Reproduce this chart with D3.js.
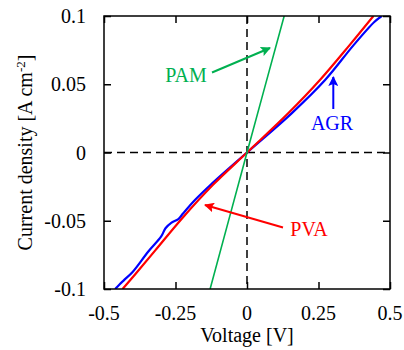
<!DOCTYPE html>
<html>
    <head>
        <meta charset="utf-8">
        <title>J-V</title>
        <script src="https://d3js.org/d3.v7.min.js" charset="utf-8"></script>
        <style>
            body { margin: 0; background: #fff; }
            text { font-family: "Liberation Serif", "Times New Roman", serif; font-size: 20px; }
            .frame { fill: none; stroke: #000; stroke-width: 1.5px; }
            .ax line { stroke: #000; stroke-width: 1.5px; }
            .zero { stroke: #000; stroke-width: 1.5px; stroke-dasharray: 8,5; }
            .curve { fill: none; }
        </style>
    </head>
    <body>
        <script>
            var width = 404;
            var height = 350;

            // podaci ocitani sa slike
            var xTicks = [-0.5, -0.25, 0, 0.25, 0.5];
            var yTicks = [-0.1, -0.05, 0, 0.05, 0.1];

            var pvaV = [-0.435, -0.39, -0.32, -0.228, -0.118, 0, 0.144, 0.255, 0.358, 0.442];
            var pvaJ = [-0.1, -0.089, -0.0715, -0.0485, -0.0235, 0, 0.0287, 0.0531, 0.0785, 0.1];

            var agrV = [-0.461, -0.445, -0.43, -0.40, -0.345, -0.30, -0.285, -0.265, -0.24, -0.223, -0.182, -0.127, 0, 0.156, 0.273, 0.372, 0.445, 0.471];
            var agrJ = [-0.1, -0.0965, -0.0935, -0.0875, -0.0725, -0.0615, -0.0555, -0.0515, -0.0488, -0.0445, -0.0348, -0.0236, 0, 0.0287, 0.0531, 0.0785, 0.0956, 0.1];

            var pamV = [-0.129, 0, 0.13];
            var pamJ = [-0.1, 0, 0.1];

            var pLeft = 104, pRight = 390, pTop = 16, pBottom = 289;

            var x = d3.scaleLinear().domain([-0.5, 0.5]).range([pLeft, pRight]);
            var y = d3.scaleLinear().domain([-0.1, 0.1]).range([pBottom, pTop]);

            var svg = d3.select("body").append("svg")
                            .attr("width", width)
                            .attr("height", height);

            var defs = svg.append("defs");
            defs.append("clipPath").attr("id", "plot")
                .append("rect")
                    .attr("x", pLeft).attr("y", pTop)
                    .attr("width", pRight - pLeft).attr("height", pBottom - pTop);

            // strelice
            [["g", "#00b050"], ["b", "#0000ff"], ["r", "#ff0000"]].forEach(function(m) {
                defs.append("marker")
                        .attr("id", "arrow-" + m[0])
                        .attr("viewBox", "0 0 10 10")
                        .attr("refX", 9).attr("refY", 5)
                        .attr("markerWidth", 5).attr("markerHeight", 5)
                        .attr("orient", "auto")
                    .append("path")
                        .attr("d", "M0,0 L10,5 L0,10 L2,5 z")
                        .attr("fill", m[1]);
            });

            // isprekidane linije kroz nulu
            svg.append("line").attr("class", "zero")
                .attr("x1", x(-0.5)).attr("x2", x(0.5))
                .attr("y1", y(0)).attr("y2", y(0));
            svg.append("line").attr("class", "zero")
                .attr("x1", x(0)).attr("x2", x(0))
                .attr("y1", y(0.1)).attr("y2", y(-0.1));

            var line = d3.line()
                            .x(function(d) { return x(d[0]); })
                            .y(function(d) { return y(d[1]); })
                            .curve(d3.curveCatmullRom.alpha(0.5));

            var series = [
                { v: agrV, j: agrJ, color: "#0000ff", w: 2.2 },
                { v: pvaV, j: pvaJ, color: "#ff0000", w: 2.2 },
                { v: pamV, j: pamJ, color: "#00b050", w: 1.6 }
            ];

            var curves = svg.append("g").attr("clip-path", "url(#plot)");
            curves.selectAll(".curve")
                    .data(series)
                .enter().append("path")
                    .attr("class", "curve")
                    .attr("stroke", function(d) { return d.color; })
                    .attr("stroke-width", function(d) { return d.w; })
                    .attr("d", function(d) { return line(d3.zip(d.v, d.j)); });

            // osi - tickovi prema unutra na sve cetiri strane
            function noDomain(g) {
                g.select(".domain").remove();
                g.selectAll("text").remove();
            }
            svg.append("g").attr("class", "ax")
                .attr("transform", "translate(0," + pBottom + ")")
                .call(d3.axisBottom(x).tickValues(xTicks).tickSizeInner(-7).tickSizeOuter(0))
                .call(noDomain);
            svg.append("g").attr("class", "ax")
                .attr("transform", "translate(0," + pTop + ")")
                .call(d3.axisTop(x).tickValues(xTicks).tickSizeInner(-7).tickSizeOuter(0))
                .call(noDomain);
            svg.append("g").attr("class", "ax")
                .attr("transform", "translate(" + pLeft + ",0)")
                .call(d3.axisLeft(y).tickValues(yTicks).tickSizeInner(-7).tickSizeOuter(0))
                .call(noDomain);
            svg.append("g").attr("class", "ax")
                .attr("transform", "translate(" + pRight + ",0)")
                .call(d3.axisRight(y).tickValues(yTicks).tickSizeInner(-7).tickSizeOuter(0))
                .call(noDomain);

            svg.append("rect").attr("class", "frame")
                .attr("x", pLeft).attr("y", pTop)
                .attr("width", pRight - pLeft).attr("height", pBottom - pTop);

            // oznake
            svg.selectAll(".xlab")
                    .data(xTicks)
                .enter().append("text")
                    .attr("class", "xlab")
                    .attr("x", function(d) { return x(d); })
                    .attr("y", 320)
                    .attr("text-anchor", "middle")
                    .text(function(d) { return d; });

            svg.selectAll(".ylab")
                    .data(yTicks)
                .enter().append("text")
                    .attr("class", "ylab")
                    .attr("x", 86)
                    .attr("y", function(d) { return y(d); })
                    .attr("dy", "0.36em")
                    .attr("text-anchor", "end")
                    .text(function(d) { return d; });

            svg.append("text")
                .attr("x", (pLeft + pRight) / 2)
                .attr("y", 342)
                .attr("text-anchor", "middle")
                .text("Voltage [V]");

            var ytitle = svg.append("text")
                .attr("transform", "translate(32," + ((pTop + pBottom) / 2) + ") rotate(-90)")
                .attr("text-anchor", "middle");
            ytitle.append("tspan").text("Current density [A cm");
            ytitle.append("tspan").attr("dy", -7).style("font-size", "13px").text("-2");
            ytitle.append("tspan").attr("dy", 7).text("]");

            // anotacije
            var notes = [
                { t: "PAM", tx: 186, ty: 82, c: "#00b050", m: "g", x1: 212, y1: 72.5, x2: 270, y2: 48 },
                { t: "AGR", tx: 332, ty: 130, c: "#0000ff", m: "b", x1: 333.3, y1: 109, x2: 333.3, y2: 77 },
                { t: "PVA", tx: 309, ty: 236, c: "#ff0000", m: "r", x1: 283, y1: 227.5, x2: 205, y2: 205 }
            ];
            notes.forEach(function(n) {
                svg.append("line")
                    .attr("x1", n.x1).attr("y1", n.y1)
                    .attr("x2", n.x2).attr("y2", n.y2)
                    .attr("stroke", n.c).attr("stroke-width", 2)
                    .attr("marker-end", "url(#arrow-" + n.m + ")");
                svg.append("text")
                    .attr("x", n.tx).attr("y", n.ty)
                    .attr("text-anchor", "middle")
                    .attr("fill", n.c)
                    .text(n.t);
            });
        </script>
    </body>
</html>
